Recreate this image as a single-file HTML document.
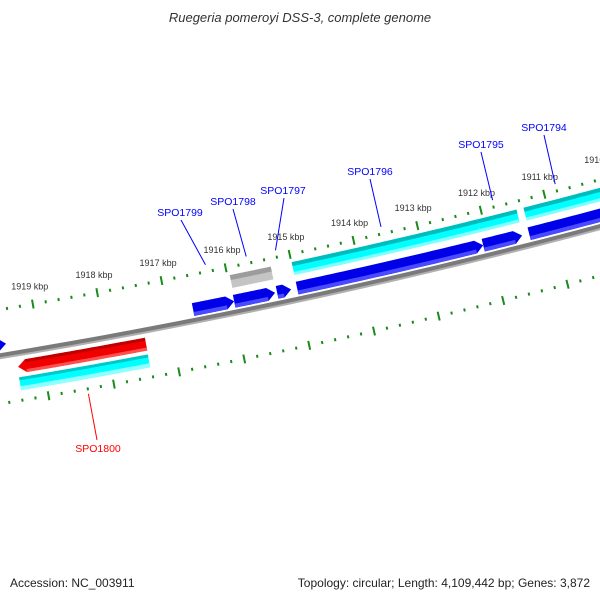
<!DOCTYPE html>
<html><head><meta charset="utf-8"><style>
html,body{margin:0;padding:0;background:#fff;}
svg{display:block;font-family:"Liberation Sans","DejaVu Sans",sans-serif;}
</style></head><body>
<svg id="map" width="600" height="600" viewBox="0 0 600 600" xmlns="http://www.w3.org/2000/svg">
<rect width="600" height="600" fill="#fff"/>
<text x="300" y="22" text-anchor="middle" font-size="13" font-style="italic" fill="#333">Ruegeria pomeroyi DSS-3, complete genome</text>
<text x="10" y="587" font-size="12" fill="#222">Accession: NC_003911</text>
<text x="590" y="587" text-anchor="end" font-size="12" fill="#222">Topology: circular; Length: 4,109,442 bp; Genes: 3,872</text>
<g id="layer"></g>
</svg>
<script>
// ---- data ----
const tickKbp = [1909,1910,1911,1912,1913,1914,1915,1916,1917,1918,1919,1920];
const tickLabels = ["1909 kbp","1910 kbp","1911 kbp","1912 kbp","1913 kbp","1914 kbp","1915 kbp","1916 kbp","1917 kbp","1918 kbp","1919 kbp","1920 kbp"];
const blueStart = [1919503,1915975,1915339,1915090,1912093,1911483,1909500];
const blueEnd   = [1920300,1916612,1915975,1915308,1914997,1912093,1911373];
const grayStart = [1915322];
const grayEnd   = [1915961];
const cyanInStart = [1912081,1911470,1909500];
const cyanInEnd   = [1914995,1912081,1911359];
const redStart = [1917412];
const redEnd   = [1919381];
const cyanOutStart = [1917415];
const cyanOutEnd   = [1919393];
const labelNames = ["SPO1799","SPO1798","SPO1797","SPO1796","SPO1795","SPO1794","SPO1800"];
const labelBp    = [1916293,1915657,1915199,1913545,1911788,1910800,1918404];

// ---- geometry ----
const cx=-1044, cy=-5956, refBp=1917000, refDeg=79.06, degPerBp=0.00059;
function ang(bp){return (refDeg+(bp-refBp)*degPerBp)*Math.PI/180;}
function pt(r,bp){const a=ang(bp);return [cx+r*Math.cos(a), cy+r*Math.sin(a)];}
const NS="http://www.w3.org/2000/svg";
const layer=document.getElementById('layer');
function mk(tag,attrs){const e=document.createElementNS(NS,tag);for(const k in attrs)e.setAttribute(k,attrs[k]);layer.appendChild(e);return e;}
function arcPts(r,b1,b2,n){const p=[];for(let i=0;i<=n;i++){p.push(pt(r,b1+(b2-b1)*i/n));}return p;}
function polyStr(p){return p.map(q=>q[0].toFixed(2)+','+q[1].toFixed(2)).join(' ');}
function band(r1,r2,b1,b2,fill,name){
  const p=arcPts(r1,b1,b2,30).concat(arcPts(r2,b2,b1,30));
  const e=mk('polygon',{points:polyStr(p),fill:fill});
  
  
  return e;
}
function arrow(r1,r2,s,e,dir,fill,name){
  const h=120; let p;
  if(dir<0){p=[pt((r1+r2)/2,s)].concat(arcPts(r2,s+h,e,30)).concat(arcPts(r1,e,s+h,30));}
  else{p=[pt((r1+r2)/2,e)].concat(arcPts(r1,e-h,s,30)).concat(arcPts(r2,s,e-h,30));}
  const el=mk('polygon',{points:polyStr(p),fill:fill});
  
  
  return el;
}

// backbone
band(6395,6400,1905000,1922000,'#7a7a7a','backbone');
band(6399,6401,1905000,1922000,'#b0b0b0','backbone-edge');

// rulers
function ruler(r,labels,nm){
  for(let bp=1909000;bp<=1920600;bp+=200){
    const major=(bp%1000===0); const L=major?4.5:1.5;
    const a=pt(r-L,bp), b=pt(r+L,bp);
    const t=mk('line',{x1:a[0],y1:a[1],x2:b[0],y2:b[1],stroke:'#1a8a1a','stroke-width':2});
    
    
  }
  if(labels){
    for(let i=0;i<tickKbp.length;i++){
      const p=pt(6334,tickKbp[i]*1000);
      const tx=mk('text',{x:p[0],y:p[1]+3,'text-anchor':'middle','font-size':9,fill:'#333'});
      tx.textContent=tickLabels[i];
      
      
    }
  }
}
ruler(6352,true,'inner-ruler');
ruler(6445,false,'outer-ruler');

// inner cyan / gray slot
for(let i=0;i<cyanInStart.length;i++){
  band(6360,6373,cyanInStart[i],cyanInEnd[i],'#00ffff','cyan-feature');
  band(6360,6364,cyanInStart[i],cyanInEnd[i],'#00bcbc','cyan-feature-edge');
  band(6370,6373,cyanInStart[i],cyanInEnd[i],'#80ffff','cyan-feature-light');
}
for(let i=0;i<grayStart.length;i++){
  band(6360,6373,grayStart[i],grayEnd[i],'#c4c4c4','gray-feature');
  band(6360,6365,grayStart[i],grayEnd[i],'#9c9c9c','gray-feature-edge');
}
// inner blue slot
for(let i=0;i<blueStart.length;i++){
  arrow(6380,6393,blueStart[i],blueEnd[i],-1,'#0000e8','blue-gene-arrow');
  band(6389,6393,blueStart[i]+120,blueEnd[i],'#4a4aff','blue-gene-light');
}
// outer red
for(let i=0;i<redStart.length;i++){
  arrow(6405,6418,redStart[i],redEnd[i],1,'#f00000','red-gene-arrow');
  band(6405,6408,redStart[i],redEnd[i]-120,'#c00000','red-gene-edge');
  band(6415,6418,redStart[i],redEnd[i]-120,'#ff5050','red-gene-light');
}
for(let i=0;i<cyanOutStart.length;i++){
  band(6422,6435,cyanOutStart[i],cyanOutEnd[i],'#00ffff','outer-cyan-feature');
  band(6422,6425,cyanOutStart[i],cyanOutEnd[i],'#00c8c8','outer-cyan-edge');
  band(6431,6435,cyanOutStart[i],cyanOutEnd[i],'#90ffff','outer-cyan-light');
}

// labels (layout positions)
const labelPos=[[180,216],[233,205],[283,194],[370,175],[481,148],[544,131],[98,452]];
const labelLine=[[181,220],[233,209],[284,198],[370,179],[481,152],[544,135],[97,440]];
for(let i=0;i<labelNames.length;i++){
  const outer=(labelNames[i]==='SPO1800');
  const col=outer?'#ff0000':'#0000ff';
  const s=pt(outer?6450:6345,labelBp[i]);
  const ln=mk('line',{x1:s[0],y1:s[1],x2:labelLine[i][0],y2:labelLine[i][1],stroke:col,'stroke-width':1});
  
  
  const tx=mk('text',{x:labelPos[i][0],y:labelPos[i][1],'text-anchor':'middle','font-size':10.5,fill:col});
  tx.textContent=labelNames[i];
  
  
}
</script>
</body></html>
